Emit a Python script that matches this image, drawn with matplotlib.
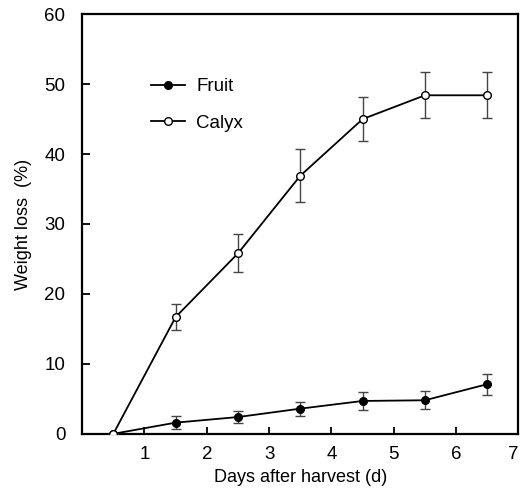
import matplotlib
matplotlib.use("Agg")
import matplotlib.pyplot as plt
import numpy as np

plt.rcParams['font.family'] = ['Liberation Sans', 'DejaVu Sans']

# данные
days = [0.5, 1.5, 2.5, 3.5, 4.5, 5.5, 6.5]
fruit = [0, 1.6, 2.4, 3.6, 4.7, 4.8, 7.1]
fruit_err = [0, 0.95, 0.9, 1.0, 1.25, 1.3, 1.5]
calyx = [0, 16.7, 25.8, 36.9, 45.0, 48.4, 48.4]
calyx_err = [0, 1.9, 2.7, 3.8, 3.1, 3.3, 3.3]

fig = plt.figure(figsize=(5.2, 4.88), dpi=100)
ax = fig.add_axes([0.158, 0.111, 0.839, 0.86])

ax.errorbar(days, fruit, yerr=fruit_err, color='black', marker='o',
            markersize=5.5, markerfacecolor='black', linewidth=1.3,
            ecolor='#444444', elinewidth=1.0, capsize=3.5, capthick=1.0,
            label='Fruit', zorder=2)
ax.errorbar(days, calyx, yerr=calyx_err, color='black', marker='o',
            markersize=5.5, markerfacecolor='white', markeredgewidth=1.0,
            linewidth=1.3, ecolor='#444444', elinewidth=1.0, capsize=3.5,
            capthick=1.0, label='Calyx', zorder=3)

ax.set_xlim(0, 7)
ax.set_ylim(0, 60)
ax.set_xticks([1, 2, 3, 4, 5, 6, 7])
ax.set_yticks([0, 10, 20, 30, 40, 50, 60])
ax.tick_params(direction='in', length=6, width=1.3, labelsize=13.5)
ax.tick_params(axis='y', pad=12)
ax.tick_params(axis='x', length=5, pad=9)
ax.get_xticklabels()[-1].set_ha('right')
for s in ax.spines.values():
    s.set_linewidth(1.6)

ax.set_xlabel('Days after harvest (d)', fontsize=13, labelpad=4)
ax.set_ylabel('Weight loss  (%)', fontsize=13, labelpad=9)

handles, labels = ax.get_legend_handles_labels()
handles = [h[0] for h in handles]
ax.legend(handles, labels, loc='upper left', bbox_to_anchor=(0.12, 0.888),
          frameon=False, fontsize=13.5, handlelength=1.8, labelspacing=1.05,
          handletextpad=0.6)

fig.savefig('out.png', dpi=100)
